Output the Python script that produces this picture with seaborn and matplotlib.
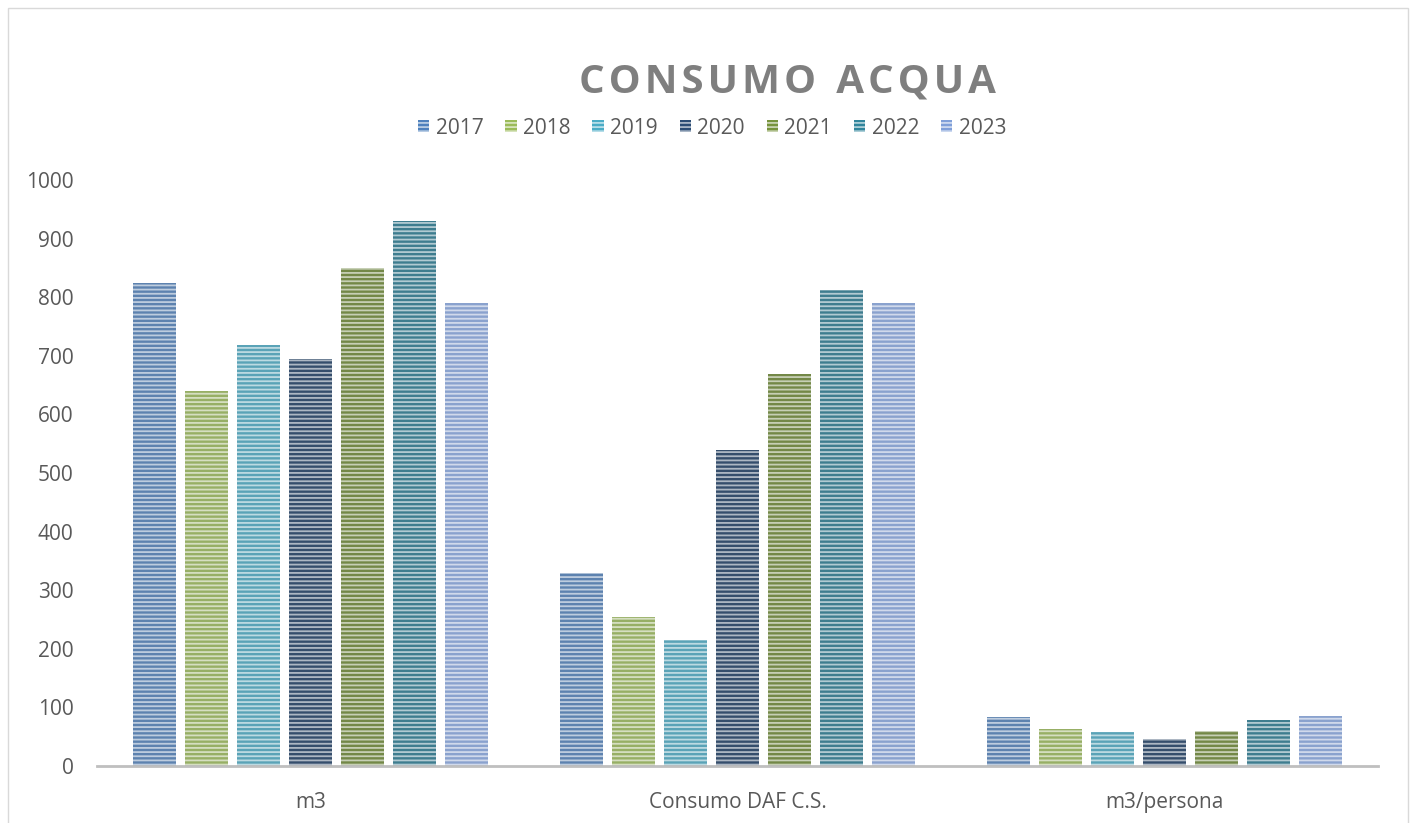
import pandas as pd
import numpy as np
import seaborn as sns
import matplotlib.pyplot as plt
from matplotlib.patches import Rectangle, Patch

categories = ["m3", "Consumo DAF C.S.", "m3/persona"]
years = ["2017", "2018", "2019", "2020", "2021", "2022", "2023"]
v_m3 = [824, 640, 718, 695, 850, 930, 790]
v_daf = [329, 254, 215, 539, 669, 812, 790]
v_pers = [84, 63, 58, 46, 60, 78, 85]
colors = ["#4F81BD", "#9BBB59", "#4BACC6", "#2C4D75", "#77933C", "#31859C", "#7F9FD9"]

rows = []
for cat, vals in zip(categories, [v_m3, v_daf, v_pers]):
    for y, v in zip(years, vals):
        rows.append({"cat": cat, "year": y, "val": v})
df = pd.DataFrame(rows)

sns.set_style("white")
plt.rcParams['font.family'] = ['Open Sans', 'DejaVu Sans']
plt.rcParams['hatch.linewidth'] = 1.3

fig = plt.figure(figsize=(14.15, 8.23), dpi=100)
ax = fig.add_axes([97/1415, 57/823, 1281/1415, 586/823])

sns.barplot(data=df, x="cat", y="val", hue="year", palette=colors,
            width=0.853, gap=0.17, ax=ax, legend=False)

# stripes like the excel fill
for p in ax.patches:
    p.set_hatch("----")
    p.set_edgecolor((1, 1, 1, 0.6))
    p.set_linewidth(0)

ax.set_ylim(0, 1000)
ax.set_xlim(-0.5, 2.5)
ax.set_yticks(range(0, 1001, 100))
ax.set_xlabel("")
ax.set_ylabel("")
ax.tick_params(axis="both", length=0, labelsize=15, colors="#595959")
ax.tick_params(axis="x", pad=19)
ax.tick_params(axis="y", pad=17)
for s in ["top", "right", "left"]:
    ax.spines[s].set_visible(False)
ax.spines["bottom"].set_color("#BFBFBF")
ax.spines["bottom"].set_linewidth(2)

handles = [Patch(facecolor=c, edgecolor=(1, 1, 1, 0.6), hatch="----", linewidth=0) for c in colors]
fig.legend(handles, years, loc="center", bbox_to_anchor=(712/1415, 1 - 128/823), ncol=7,
           frameon=False, fontsize=15, labelcolor="#595959", handlelength=0.55, handleheight=0.55,
           handletextpad=0.3, columnspacing=1.05)

fig.text(787/1415, 1 - 82/823, "\u200a".join("CONSUMO") + "\u2002" + "\u200a".join("ACQUA"),
         ha="center", va="center", fontsize=29, fontweight="bold", color="#7F7F7F")

fig.patches.append(Rectangle((8/1415, -0.05), 1400/1415, 1 - 8/823 + 0.05, transform=fig.transFigure,
                             fill=False, edgecolor="#D9D9D9", linewidth=1))

fig.savefig("out.png", dpi=100)
